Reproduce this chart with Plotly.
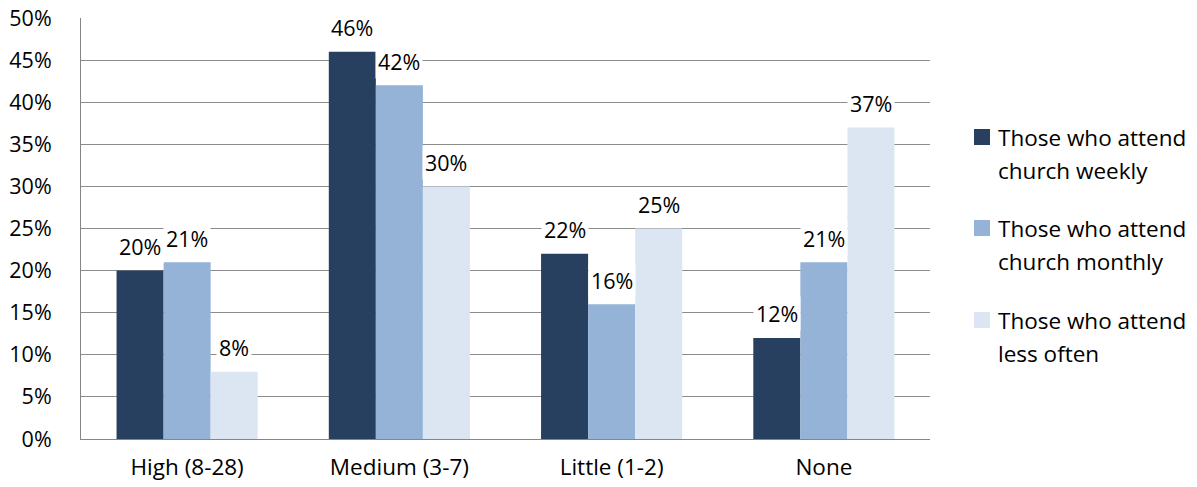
import plotly.graph_objects as go

categories = ["High (8-28)", "Medium (3-7)", "Little (1-2)", "None"]
series_names = ["Those who attend church weekly", "Those who attend church monthly", "Those who attend less often"]
legend_lines = [["Those who attend", "church weekly"], ["Those who attend", "church monthly"], ["Those who attend", "less often"]]
weekly = [20, 46, 22, 12]
monthly = [21, 42, 16, 21]
less_often = [8, 30, 25, 37]
values = [weekly, monthly, less_often]
colors = ["#274060", "#95B3D7", "#DCE6F2"]
y_ticks = [0, 5, 10, 15, 20, 25, 30, 35, 40, 45, 50]

W, H = 1197, 487
ml, mr, mt, mb = 81, 267, 18, 48
FONT = "Open Sans"
FS_NUM = 21.5
FS_TXT = 22.5
bargap = 0.335

fig = go.Figure()
for name, vals, col in zip(series_names, values, colors):
    fig.add_trace(go.Bar(x=categories, y=vals, name=name, marker=dict(color=col, line=dict(width=0)),
                         showlegend=False))

plot_w = W - ml - mr
plot_h = H - mt - mb
cat_w = plot_w / len(categories)
bar_w = cat_w * (1 - bargap) / 3
offsets = [-bar_w, 0, bar_w]

annotations = []
for vals, off in zip(values, offsets):
    for c, v in zip(categories, vals):
        annotations.append(dict(x=c, y=v, xref="x", yref="y", text=f"{v}%", showarrow=False,
                                xshift=off, yshift=24, bgcolor="white", borderpad=2,
                                font=dict(family=FONT, size=FS_NUM, color="#000000")))

# manual legend
leg_x = 996
row_y = [137, 228, 320]
shapes = []
for (l1, l2), col, ry in zip(legend_lines, colors, row_y):
    shapes.append(dict(type="rect", xref="paper", yref="paper",
                       x0=(974 - ml) / plot_w, x1=(990 - ml) / plot_w,
                       y0=1 - (ry + 8 - mt) / plot_h, y1=1 - (ry - 8 - mt) / plot_h,
                       fillcolor=col, line=dict(width=0)))
    for txt, yy in ((l1, ry), (l2, ry + 33)):
        annotations.append(dict(x=(leg_x - ml) / plot_w, y=1 - (yy - mt) / plot_h,
                                xref="paper", yref="paper", xanchor="left", yanchor="middle",
                                text=txt, showarrow=False,
                                font=dict(family=FONT, size=FS_TXT, color="#000000")))

fig.update_layout(
    width=W, height=H,
    margin=dict(l=ml, r=mr, t=mt, b=mb, autoexpand=False),
    paper_bgcolor="white", plot_bgcolor="white",
    barmode="group", bargap=bargap, bargroupgap=0,
    font=dict(family=FONT, size=FS_NUM, color="#000000"),
    annotations=annotations, shapes=shapes,
    xaxis=dict(showline=True, linecolor="#868686", linewidth=1, showgrid=False, ticks="",
               automargin=False,
               tickfont=dict(family=FONT, size=FS_TXT), ticklabelstandoff=8),
    yaxis=dict(range=[0, 50], tickvals=y_ticks, ticktext=[f"{t}%" for t in y_ticks],
               showgrid=True, gridcolor="#8C8C8C", gridwidth=1, zeroline=False,
               showline=True, linecolor="#868686", linewidth=1, ticks="", automargin=False,
               tickfont=dict(family=FONT, size=FS_NUM), ticklabelstandoff=24),
)

fig.write_html("out.html")
